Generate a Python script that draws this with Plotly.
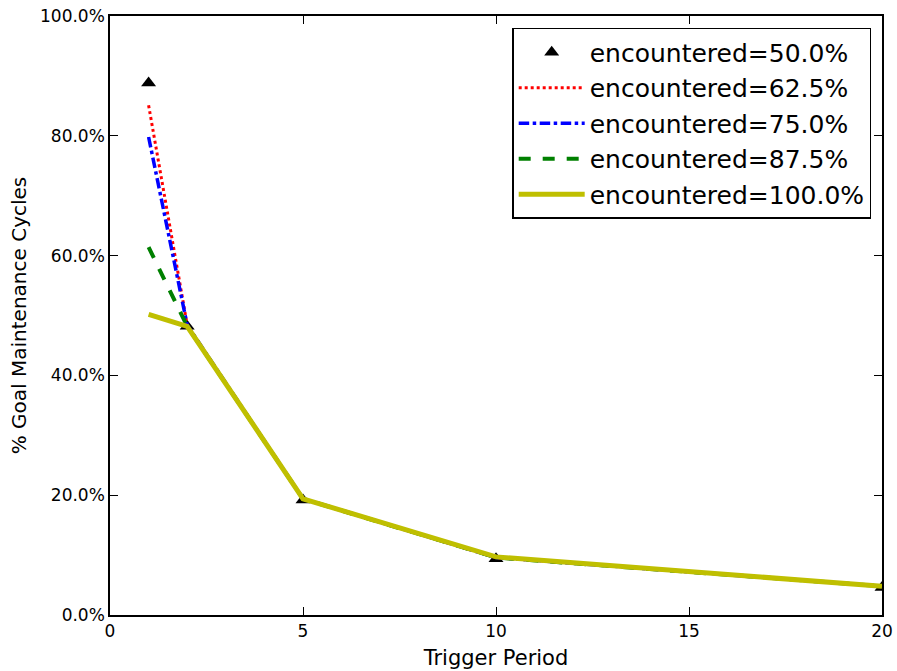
import plotly.graph_objects as go

trigger_period = [1, 2, 5, 10, 20]
labels = ["encountered=50.0%", "encountered=62.5%", "encountered=75.0%",
          "encountered=87.5%", "encountered=100.0%"]
enc_50 = [0.888, 0.482, 0.192, 0.094, 0.046]
enc_62 = [0.851, 0.484, 0.194, 0.096, 0.048]
enc_75 = [0.798, 0.484, 0.194, 0.096, 0.048]
enc_87 = [0.614, 0.482, 0.194, 0.096, 0.048]
enc_100 = [0.502, 0.482, 0.194, 0.097, 0.048]

font = "DejaVu Sans"
fig = go.Figure()
fig.add_trace(go.Scatter(x=trigger_period, y=enc_50, mode="markers", name=labels[0],
                         marker=dict(symbol="triangle-up", size=13, color="black")))
fig.add_trace(go.Scatter(x=trigger_period, y=enc_62, mode="lines", name=labels[1],
                         line=dict(color="#ff0000", width=3, dash="dot")))
fig.add_trace(go.Scatter(x=trigger_period, y=enc_75, mode="lines", name=labels[2],
                         line=dict(color="#0000ff", width=3.5, dash="dashdot")))
fig.add_trace(go.Scatter(x=trigger_period, y=enc_87, mode="lines", name=labels[3],
                         line=dict(color="#008000", width=4, dash="dash")))
fig.add_trace(go.Scatter(x=trigger_period, y=enc_100, mode="lines", name=labels[4],
                         line=dict(color="#bfbf00", width=5)))

axis_common = dict(showline=True, linecolor="black", linewidth=1.5, mirror="ticks",
                   ticks="inside", ticklen=8, tickcolor="black", tickwidth=1,
                   showgrid=False, zeroline=False, automargin=False,
                   tickfont=dict(family=font, size=17, color="black"))
fig.update_xaxes(range=[0, 20], tickvals=[0, 5, 10, 15, 20],
                 title=dict(text="Trigger Period", font=dict(family=font, size=21, color="black"), standoff=10),
                 **axis_common)
fig.update_yaxes(range=[0, 1], tickvals=[0, 0.2, 0.4, 0.6, 0.8, 1.0], tickformat=".1%",
                 title=dict(text="% Goal Maintenance Cycles", font=dict(family=font, size=20, color="black"), standoff=8),
                 **axis_common)
fig.update_layout(
    width=897, height=671,
    margin=dict(l=110, r=15, t=16, b=56),
    paper_bgcolor="white", plot_bgcolor="white",
    font=dict(family=font, color="black"),
    legend=dict(x=0.986, y=0.98, xanchor="right", yanchor="top",
                bgcolor="white", bordercolor="black", borderwidth=1.5,
                font=dict(family=font, size=25, color="black"),
                itemwidth=66, tracegroupgap=0),
    showlegend=True,
)
fig.write_html("out.html")
